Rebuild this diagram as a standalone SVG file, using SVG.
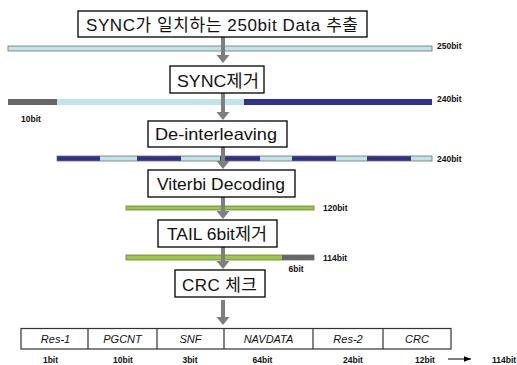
<svg xmlns="http://www.w3.org/2000/svg" width="517" height="365" viewBox="0 0 517 365">
  <defs>
    <style>
      .box { fill: #ffffff; stroke: #000000; stroke-width: 1.3; }
      .step { font-family: "Liberation Sans", "Noto Sans CJK KR", sans-serif; font-size: 17px; fill: #111111; text-anchor: middle; }
      .bar { stroke: #6f6f6f; stroke-width: 0.8; }
      .lt { fill: #c0e4e8; }
      .nv { fill: #2e3192; }
      .gy { fill: #666666; }
      .gr { fill: #99cc33; }
      .bits { font-family: "Liberation Sans", sans-serif; font-size: 8.5px; font-weight: bold; fill: #111111; }
      .mid { text-anchor: middle; }
      .cell { fill: #ffffff; stroke: #333333; stroke-width: 1.2; }
      .field { font-family: "Liberation Sans", sans-serif; font-size: 11px; font-style: italic; fill: #111111; text-anchor: middle; }
      .flow { fill: #7f7f7f; }
    </style>
    <marker id="tip" viewBox="0 0 10 10" refX="10" refY="5" markerWidth="7" markerHeight="7" orient="auto" markerUnits="userSpaceOnUse">
      <path d="M0,1 L10,5 L0,9 Z" fill="#000000"/>
    </marker>
  </defs>

  <!-- bit streams -->
  <g id="stream-250">
    <rect class="bar lt" x="8" y="46" width="424" height="5"/>
    <text class="bits" x="437" y="48.5">250bit</text>
  </g>

  <g id="stream-sync-removed">
    <rect class="gy" x="8" y="99" width="49" height="6"/>
    <rect class="lt" x="57" y="99" width="187" height="6"/>
    <rect class="nv" x="244" y="99" width="188" height="6"/>
    <text class="bits" x="437" y="102">240bit</text>
    <text class="bits" x="21" y="121.5">10bit</text>
  </g>

  <g id="stream-deinterleaved">
    <rect class="nv" x="57" y="156" width="375" height="5"/>
    <rect class="lt" x="100" y="156" width="37" height="5"/>
    <rect class="lt" x="181" y="156" width="39" height="5"/>
    <rect class="lt" x="260" y="156" width="32" height="5"/>
    <rect class="lt" x="336" y="156" width="31" height="5"/>
    <rect class="lt" x="411" y="156" width="21" height="5"/>
    <rect class="bar" x="57" y="156" width="375" height="5" fill="none"/>
    <text class="bits" x="437" y="162">240bit</text>
  </g>

  <g id="stream-decoded">
    <rect class="bar gr" x="126" y="206" width="188" height="4"/>
    <text class="bits" x="323" y="211">120bit</text>
  </g>

  <g id="stream-tail">
    <rect class="gr" x="126" y="255" width="156" height="5"/>
    <rect class="gy" x="282" y="255" width="32" height="5"/>
    <rect class="bar" x="126" y="255" width="188" height="5" fill="none"/>
    <text class="bits" x="323" y="260.5">114bit</text>
    <text class="bits" x="288.5" y="272">6bit</text>
  </g>

  <!-- processing flow -->
  <g id="connectors">
    <path class="flow" d="M221,37 H225 V55 H229.5 L223,63 L216.5,55 H221 Z"/>
    <path class="flow" d="M221,93 H225 V112 H229.5 L223,120 L216.5,112 H221 Z"/>
    <path class="flow" d="M221,147 H225 V161 H229.5 L223,169 L216.5,161 H221 Z"/>
    <path class="flow" d="M221,197 H225 V211 H229.5 L223,219 L216.5,211 H221 Z"/>
    <path class="flow" d="M221,247 H225 V261 H229.5 L223,269 L216.5,261 H221 Z"/>
    <path class="flow" d="M221,300 H225 V317 H229.5 L223,325 L216.5,317 H221 Z"/>
    <line x1="448" y1="359" x2="471" y2="359" stroke="#000000" stroke-width="1" marker-end="url(#tip)"/>
  </g>

  <g id="step-extract">
    <rect class="box" x="78" y="11" width="289" height="26"/>
    <text class="step" x="222" y="31" textLength="272" lengthAdjust="spacing">SYNC가 일치하는 250bit Data 추출</text>
  </g>

  <g id="step-sync">
    <rect class="box" x="170" y="66" width="94" height="27"/>
    <text class="step" x="218" y="87" textLength="82" lengthAdjust="spacingAndGlyphs">SYNC제거</text>
  </g>

  <g id="step-deinterleave">
    <rect class="box" x="148" y="121" width="139" height="26"/>
    <text class="step" x="216" y="140" textLength="122" lengthAdjust="spacingAndGlyphs">De-interleaving</text>
  </g>

  <g id="step-viterbi">
    <rect class="box" x="148" y="170" width="147" height="27"/>
    <text class="step" x="221" y="190" textLength="128" lengthAdjust="spacingAndGlyphs">Viterbi Decoding</text>
  </g>

  <g id="step-tail">
    <rect class="box" x="158" y="220" width="119" height="27"/>
    <text class="step" x="217" y="240" textLength="100" lengthAdjust="spacingAndGlyphs">TAIL 6bit제거</text>
  </g>

  <g id="step-crc">
    <rect class="box" x="175" y="270" width="90" height="27"/>
    <text class="step" x="219.5" y="291" textLength="75" lengthAdjust="spacing">CRC 체크</text>
  </g>

  <!-- navigation message frame -->
  <g id="frame">
    <rect class="cell" x="21" y="328.5" width="430" height="20.5"/>
    <line x1="88" y1="328.5" x2="88" y2="349" stroke="#333333" stroke-width="1.2"/>
    <line x1="157" y1="328.5" x2="157" y2="349" stroke="#333333" stroke-width="1.2"/>
    <line x1="224" y1="328.5" x2="224" y2="349" stroke="#333333" stroke-width="1.2"/>
    <line x1="313" y1="328.5" x2="313" y2="349" stroke="#333333" stroke-width="1.2"/>
    <line x1="383" y1="328.5" x2="383" y2="349" stroke="#333333" stroke-width="1.2"/>
    <text class="field" x="55.5" y="343">Res-1</text>
    <text class="field" x="122.5" y="343">PGCNT</text>
    <text class="field" x="190.5" y="343">SNF</text>
    <text class="field" x="268.5" y="343">NAVDATA</text>
    <text class="field" x="348" y="343">Res-2</text>
    <text class="field" x="417" y="343">CRC</text>
    <text class="bits mid" x="50.5" y="362.5">1bit</text>
    <text class="bits mid" x="123" y="362.5">10bit</text>
    <text class="bits mid" x="190" y="362.5">3bit</text>
    <text class="bits mid" x="262.5" y="362.5">64bit</text>
    <text class="bits mid" x="353" y="362.5">24bit</text>
    <text class="bits mid" x="425" y="362.5">12bit</text>
    <text class="bits" x="492" y="362.5">114bit</text>
  </g>
</svg>
